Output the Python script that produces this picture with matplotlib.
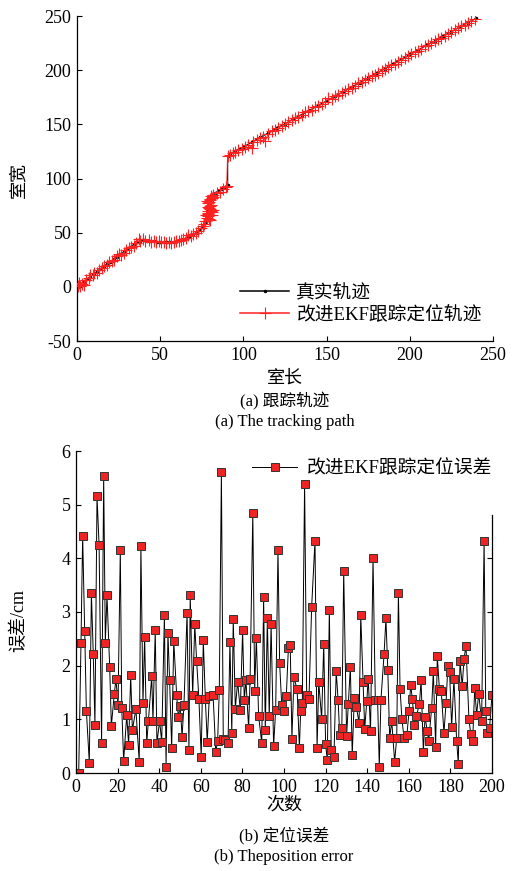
import matplotlib
matplotlib.use('Agg')
import matplotlib.pyplot as plt
import numpy as np

# ---------------- data: (a) tracking path ----------------
true_x = [0, 2, 4, 6, 8, 10, 12, 14, 16, 18, 20, 22, 24, 26, 28, 30, 32, 34, 36, 38, 40,
          42, 44, 46, 48, 50, 52, 54, 56, 58, 60, 62, 64, 66, 68, 70, 72, 74, 76, 77, 78,
          78.5, 79, 79.3, 79.6, 80, 81, 83, 85, 87, 89, 90.5, 90.5,
          92, 95, 100, 105, 110, 115, 120, 125, 130, 135, 140, 145, 150, 155, 160, 165,
          170, 175, 180, 185, 190, 195, 200, 205, 210, 215, 220, 225, 230, 235, 240]
true_y = [0, 2.5, 4.5, 7, 9.5, 12, 14, 16.5, 18.5, 21, 23, 25.5, 27.5, 30, 32, 34.5, 36.5, 39, 41, 42.5, 43,
          42.5, 42, 42, 41.5, 41.5, 41, 41, 41, 41.5, 42, 43, 44, 45.5, 47, 48.5, 50.5, 53, 56, 59, 63,
          67, 71, 75, 79, 82, 84.5, 86.5, 88.5, 90.5, 92.5, 94, 121,
          122.5, 125.5, 129, 133.5, 138, 142, 146.5, 150.5, 155, 159, 163, 167.5, 171.5, 176, 180, 184.5,
          188.5, 193, 197, 201.5, 206, 210, 214.5, 218.5, 223, 227, 231.5, 235.5, 240, 244, 248]

est_x = [0.5, 1.5, 2, 3, 4.5, 5.5, 7, 8, 9.5, 10.5, 12, 13.5, 15, 16.5, 18, 19.5, 21, 22.5, 24, 25,
         26.5, 28, 29.5, 31, 32.5, 34, 35.5, 37, 38, 39.5, 41,
         43, 44.5, 46, 47.5, 49, 50.5, 52, 53.5, 55, 56.5, 58, 59.5, 61, 62.5, 64, 65.5, 67, 68.5, 70,
         71.5, 73, 74.5, 75.5, 76.5, 77, 78, 77.5, 79, 78.5, 80, 79, 80.5, 79.5, 78, 80, 81, 80.5, 82,
         79.5, 81, 78.5, 80, 79, 81.5, 80, 78.5, 80.5, 79.5, 81, 80, 82,
         84, 86, 88, 89.5, 90,
         90.5, 92, 93.5, 95, 97, 99, 101, 103, 105, 106, 108, 110, 112, 113, 115, 117, 119, 121, 123,
         125, 127, 129, 131, 133, 135, 137, 139, 141, 143, 145, 147, 149, 151, 153, 155, 157, 159, 161,
         163, 165, 167, 169, 171, 173, 175, 177, 179, 181, 183, 185, 187, 189, 191, 193, 195, 197, 199,
         201, 203, 205, 207, 209, 211, 213, 215, 217, 219, 221, 223, 225, 227, 229, 231, 233, 235, 237, 239]
est_y = [1, 4, 0.5, 3, 2, 6.5, 8, 11, 10.5, 13, 12.5, 15.5, 17, 19.5, 20, 22.5, 24, 25, 28.5, 30.5,
         29, 31.5, 34, 35.5, 37, 38, 40.5, 44, 42, 44, 42,
         43, 41.5, 42.5, 41, 42, 41, 41.5, 40.5, 41.5, 40.5, 41.5, 42.5, 42, 43.5, 44.5, 45, 47.5, 47, 49,
         50, 52, 54, 56.5, 58, 61, 64, 66, 68, 70, 72, 74, 76, 78, 79, 80, 82, 84, 85,
         73, 69, 65, 62, 67, 71, 75, 77, 70, 63, 66, 81, 83,
         87, 88, 90.5, 92, 93.5,
         121, 122, 124, 124.5, 126.5, 127, 129, 131, 128.5, 134, 135.5, 137, 138, 134.5, 141.5, 143.5, 145, 146.5, 148.5,
         150, 152, 154, 155.5, 157, 158.5, 161, 162.5, 163.5, 166, 166.5, 168.5, 170.5, 174, 173.5, 176.5, 177.5, 179, 181,
         182.5, 184, 185.5, 188, 189, 191, 192.5, 194.5, 196, 197.5, 199.5, 201, 203, 204.5, 206, 208, 209.5, 211, 213,
         215, 216.5, 218, 220, 222, 223.5, 225, 226.5, 228.5, 230, 232, 233.5, 235, 237.5, 239, 240.5, 242, 244, 245.5, 247]

# ---------------- data: (b) position error ----------------
err_x = [1.3, 2.4, 3.2, 4.2, 5.0, 6.4, 7.4, 8.3, 9.1, 10.1, 11.1, 12.3, 13.3, 14.1, 14.9, 16.2, 17.0, 18.4, 19.2, 20.2,
         21.3, 22.0, 22.9, 24.4, 25.3, 26.3, 27.1, 28.8, 30.4, 31.2, 32.2, 33.0, 34.0, 34.8, 36.4, 37.0, 38.1, 38.9, 40.2, 41.2,
         42.5, 43.3, 44.2, 45.0, 46.0, 47.0, 48.4, 49.2, 50.1, 51.0, 51.9, 53.4, 54.3, 54.9, 56.1, 57.1, 58.0, 59.1, 60.2, 61.2,
         62.2, 63.1, 64.1, 65.9, 67.2, 68.1, 68.9, 69.9, 70.8, 71.8, 73.1, 74.0, 74.9, 75.6, 76.6, 77.7, 79.0, 80.1, 80.9, 81.7,
         83.0, 83.7, 85.0, 85.9, 86.7, 87.8, 89.3, 90.2, 91.0, 92.0, 92.9, 93.8, 95.0, 96.0, 97.1, 97.9, 98.9, 100.1, 101.1, 102.1,
         103.0, 103.8, 104.8, 106.3, 107.4, 108.0, 108.8, 109.9, 110.9, 112.0, 113.3, 114.9, 115.9, 116.7, 118.1, 119.1, 120.0, 120.8, 121.8, 122.7,
         124.0, 125.1, 126.0, 126.8, 127.8, 128.7, 130.1, 130.9, 131.9, 132.8, 133.8, 134.8, 136.1, 136.9, 138.0, 138.8, 139.8, 140.5, 141.6, 142.8,
         143.9, 145.0, 145.8, 146.6, 148.1, 149.0, 149.9, 150.8, 151.8, 153.2, 154.2, 155.0, 155.8, 156.7, 157.7, 159.1, 160.1, 160.9, 161.7, 162.7,
         163.6, 165.1, 165.9, 167.0, 167.8, 168.9, 169.6, 171.0, 171.8, 172.9, 173.7, 174.7, 175.6, 176.9, 177.9, 178.8, 179.6, 180.6, 181.7, 183.0,
         183.8, 184.6, 185.7, 186.5, 187.5, 188.9, 189.8, 190.7, 191.7, 192.6, 193.6, 195.0, 196.2, 197.0, 197.8, 198.8, 200.0]
err_y = [0.0, 2.43, 4.42, 2.64, 1.15, 0.19, 3.35, 2.22, 0.90, 5.16, 4.25, 0.56, 5.54, 2.43, 3.31, 1.97, 0.88, 1.47, 1.75, 1.27,
         4.15, 1.22, 0.23, 1.08, 0.52, 1.82, 0.80, 1.19, 0.21, 4.23, 1.31, 2.54, 0.55, 0.97, 1.80, 0.97, 2.66, 0.56, 0.97, 0.58,
         2.94, 0.12, 2.61, 1.73, 0.47, 2.46, 1.45, 1.04, 1.25, 0.68, 1.27, 2.98, 0.42, 3.32, 1.45, 2.77, 2.09, 1.37, 0.30, 2.47,
         1.37, 0.58, 1.43, 1.45, 0.39, 0.60, 1.55, 5.60, 0.64, 0.61, 0.56, 2.44, 0.75, 2.87, 1.20, 1.70, 1.17, 2.66, 1.36, 1.73,
         0.83, 1.76, 4.84, 1.53, 2.52, 1.06, 0.56, 3.28, 0.80, 2.88, 1.06, 2.77, 0.50, 1.18, 4.16, 2.05, 1.27, 1.15, 1.43, 2.32,
         2.38, 0.64, 1.78, 1.56, 0.47, 1.15, 1.30, 5.39, 1.46, 1.38, 3.10, 4.33, 0.46, 1.70, 1.01, 2.41, 0.54, 0.24, 3.04, 0.42,
         0.29, 1.90, 1.36, 0.71, 0.83, 3.76, 0.69, 1.28, 1.98, 0.33, 1.40, 1.23, 0.93, 2.94, 1.70, 0.82, 1.34, 1.76, 0.78, 4.01,
         1.36, 1.36, 0.12, 1.36, 2.21, 2.88, 1.92, 0.66, 0.96, 0.21, 0.66, 3.36, 1.56, 1.00, 0.66, 0.71, 1.15, 1.64, 1.38, 0.90,
         1.06, 1.28, 1.73, 0.39, 1.05, 0.78, 0.60, 1.22, 1.90, 0.49, 2.18, 1.57, 1.53, 0.74, 1.31, 2.00, 1.89, 0.86, 1.75, 0.60,
         0.17, 2.09, 1.62, 2.12, 2.37, 1.01, 0.72, 0.60, 1.58, 1.08, 1.48, 0.97, 4.33, 1.16, 0.74, 0.83, 1.45]

xticks_a = [0, 50, 100, 150, 200, 250]
yticks_a = [-50, 0, 50, 100, 150, 200, 250]
xticks_b = [0, 20, 40, 60, 80, 100, 120, 140, 160, 180, 200]
yticks_b = [0, 1, 2, 3, 4, 5, 6]

# ---------------- style ----------------
plt.rcParams['font.family'] = ['Liberation Serif', 'Noto Sans CJK SC']
plt.rcParams['font.size'] = 13
plt.rcParams['axes.unicode_minus'] = False
for k in ('xtick', 'ytick'):
    plt.rcParams[k + '.direction'] = 'in'
    plt.rcParams[k + '.major.size'] = 3.5
    plt.rcParams[k + '.major.width'] = 0.8
    plt.rcParams[k + '.major.pad'] = 4
plt.rcParams['axes.linewidth'] = 0.9

fig = plt.figure(figsize=(5.21, 8.71), dpi=100)
W, H = 521, 871

def axes_px(l, t, r, b):
    return fig.add_axes([l / W, 1 - b / H, (r - l) / W, (b - t) / H])

# ---------------- (a) ----------------
ax1 = axes_px(77, 16, 493, 341)
ax1.plot(true_x, true_y, color='black', lw=0.9, marker='.', ms=3, label='真实轨迹', zorder=2)
ax1.plot(est_x, est_y, color='#ff2020', lw=0.7, marker='+', ms=8.5, mew=0.8,
         label='改进EKF跟踪定位轨迹', zorder=3)
ax1.set_xlim(0, 250)
ax1.set_ylim(-50, 250)
ax1.set_xticks(xticks_a)
ax1.set_yticks(yticks_a)
for s in ('top', 'right'):
    ax1.spines[s].set_visible(False)
leg1 = ax1.legend(loc='lower right', bbox_to_anchor=(1.0, 0.02), frameon=False,
                  handlelength=2.6, handletextpad=0.4, labelspacing=0.2, borderaxespad=0.2,
                  fontsize=13.5)
for ln in leg1.get_lines():
    ln.set_linewidth(1.1)

fig.text(285 / W, 1 - 378 / H, '室长', ha='center', va='center', fontsize=13)
fig.text(19 / W, 1 - 180 / H, '室宽', ha='center', va='center', rotation=90, fontsize=13)
fig.text(285 / W, 1 - 401 / H, '(a) 跟踪轨迹', ha='center', va='center', fontsize=12)
fig.text(285 / W, 1 - 422 / H, '(a) The tracking path', ha='center', va='center', fontsize=12)

# ---------------- (b) ----------------
ax2 = axes_px(76, 451, 492, 773)
ax2.plot(err_x, err_y, color='black', lw=0.7, marker='s', ms=5.5,
         mfc='#ee2424', mec='#333333', mew=0.7, label='改进EKF跟踪定位误差')
ax2.set_xlim(0, 200)
ax2.set_ylim(0, 6)
ax2.set_xticks(xticks_b)
ax2.set_yticks(yticks_b)
for s in ('top', 'right'):
    ax2.spines[s].set_visible(False)
ax2r = ax2.twinx()
ax2r.set_ylim(0, 6)
ax2r.set_yticks([0, 1, 2, 3, 4])
ax2r.set_yticklabels([])
ax2r.spines['right'].set_bounds(0, 4.8)
for s in ('top', 'left', 'bottom'):
    ax2r.spines[s].set_visible(False)
ax2.legend(loc='upper right', bbox_to_anchor=(1.04, 1.025), frameon=False,
           handlelength=2.4, handletextpad=0.5, fontsize=13.5)

fig.text(284 / W, 1 - 805 / H, '次数', ha='center', va='center', fontsize=13)
fig.text(19 / W, 1 - 620 / H, '误差/cm', ha='center', va='center', rotation=90, fontsize=13)
fig.text(284 / W, 1 - 835 / H, '(b) 定位误差', ha='center', va='center', fontsize=12)
fig.text(284 / W, 1 - 857 / H, '(b) Theposition error', ha='center', va='center', fontsize=12)

fig.savefig('out.png', dpi=100)
